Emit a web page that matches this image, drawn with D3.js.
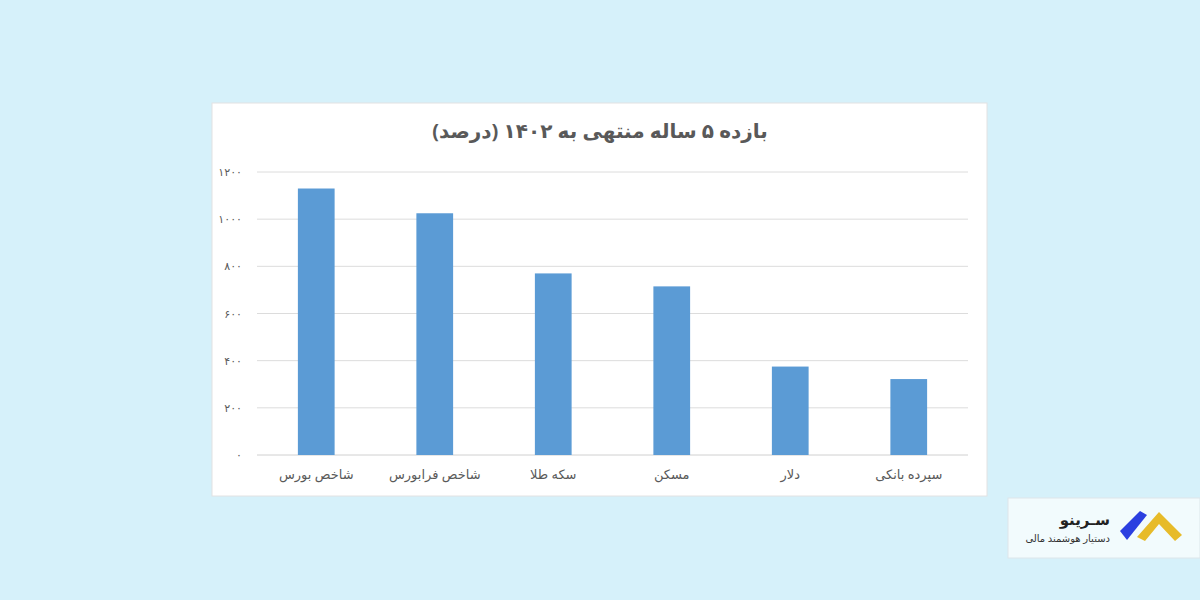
<!DOCTYPE html>
<html><head><meta charset="utf-8">
<script src="https://cdn.jsdelivr.net/npm/d3@7/dist/d3.min.js"></script>
<style>body{margin:0;background:#d6f1fa;font-family:"Noto Sans","DejaVu Sans",sans-serif}</style>
</head><body>
<svg id="c" width="1200" height="600"></svg>
<script>
const categories = ["شاخص بورس","شاخص فرابورس","سکه طلا","مسکن","دلار","سپرده بانکی"];
const values = [1130, 1025, 770, 715, 375, 322];
const tickValues = [0,200,400,600,800,1000,1200];
const tickLabels = ["۰","۲۰۰","۴۰۰","۶۰۰","۸۰۰","۱۰۰۰","۱۲۰۰"];
const title = "بازده ۵ ساله منتهی به ۱۴۰۲ (درصد)";

const svg = d3.select("#c");
svg.append("rect").attr("x",212).attr("y",103).attr("width",775).attr("height",393).attr("fill","#fff").attr("stroke","#e2e2e2");
svg.append("text").attr("x",600).attr("y",138).attr("text-anchor","middle").attr("font-size",20).attr("font-weight","bold").attr("fill","#595959").text(title);

const x = d3.scaleBand().domain(categories).range([257,968]).paddingInner(0.69).paddingOuter(0.345);
const y = d3.scaleLinear().domain([0,1200]).range([455,172]);

const g = svg.append("g");
g.selectAll("line.grid").data(tickValues).join("line")
 .attr("x1",257).attr("x2",968).attr("y1",d=>y(d)).attr("y2",d=>y(d))
 .attr("stroke",d=>d===0?"#d0d0d0":"#dcdcdc").attr("stroke-width",1);
g.selectAll("text.yt").data(tickValues).join("text")
 .attr("x",242).attr("y",d=>y(d)+4).attr("text-anchor","end").attr("font-size",11).attr("fill","#595959")
 .text((d,i)=>tickLabels[i]);
g.selectAll("rect.bar").data(values).join("rect")
 .attr("x",(d,i)=>x(categories[i])).attr("width",x.bandwidth())
 .attr("y",d=>y(d)).attr("height",d=>y(0)-y(d)).attr("fill","#5b9bd5");
g.selectAll("text.xt").data(categories).join("text")
 .attr("x",d=>x(d)+x.bandwidth()/2).attr("y",479).attr("text-anchor","middle").attr("font-size",13).attr("fill","#595959").text(d=>d);

// logo
svg.append("rect").attr("x",1008).attr("y",498).attr("width",192).attr("height",60).attr("fill","#f2fbfd").attr("stroke","#dde6ea");
svg.append("text").attr("x",1110).attr("y",525).attr("text-anchor","end").attr("font-size",15).attr("font-weight","bold").attr("fill","#222").text("سـرینو");
svg.append("text").attr("x",1110).attr("y",542).attr("text-anchor","end").attr("font-size",10).attr("fill","#333").text("دستیار هوشمند مالی");
svg.append("polygon").attr("points","1120,531 1140,511 1147,515 1127,540").attr("fill","#2b3fe0");
svg.append("polygon").attr("points","1137,537 1159,512 1182,535 1175,541 1159,524 1145,541").attr("fill","#e7bb2a");
</script>
</body></html>
